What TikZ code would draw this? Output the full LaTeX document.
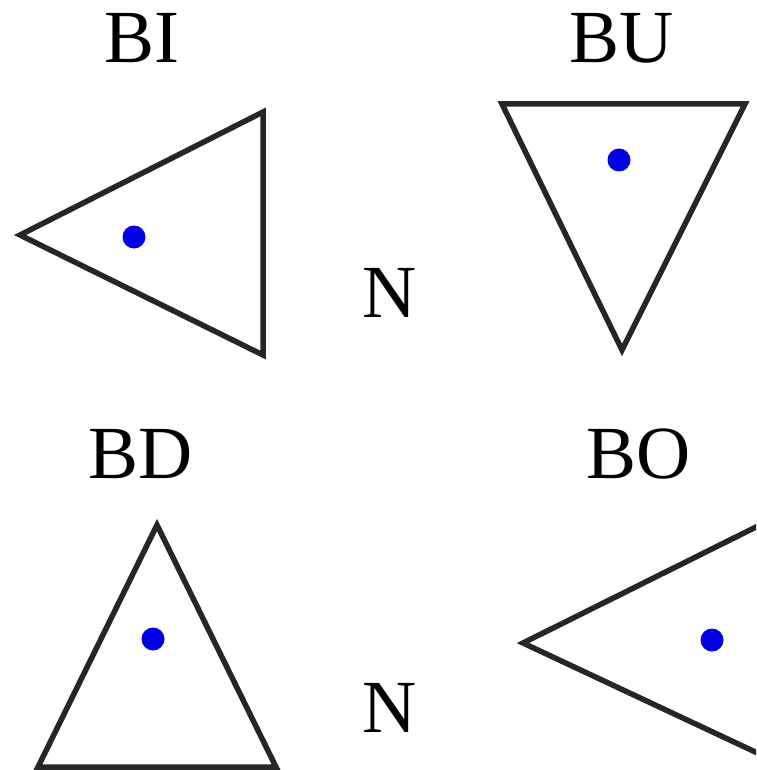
\documentclass[tikz,border=0pt]{standalone}
\usepackage{fontspec}
\setmainfont{Liberation Serif}
\begin{document}
\begin{tikzpicture}[x=1pt,y=-1pt,
  tri/.style={draw=black!85,line width=5.5pt,line join=miter},
  dotmark/.style={fill=blue!90!black,draw=none},
  lbl/.style={anchor=base,inner sep=0pt,font=\fontsize{75}{80}\selectfont}]
\useasboundingbox (0,0) rectangle (756,770);
\begin{scope}
\clip (0,0) rectangle (756,770);
% BI
\coordinate (bi1) at (20,235);
\coordinate (bi2) at (263,112);
\coordinate (bi3) at (263,355);
\draw[tri] (bi1) -- (bi2) -- (bi3) -- cycle;
\fill[dotmark] (134,237) circle (11.5);
% BU
\coordinate (bu1) at (502,104);
\coordinate (bu2) at (745,104);
\coordinate (bu3) at (622,350);
\draw[tri] (bu1) -- (bu2) -- (bu3) -- cycle;
\fill[dotmark] (619,160) circle (11.5);
% BD
\coordinate (bd1) at (157,525);
\coordinate (bd2) at (276,767);
\coordinate (bd3) at (38,767);
\draw[tri] (bd1) -- (bd2) -- (bd3) -- cycle;
\fill[dotmark] (153,639) circle (11.5);
% BO
\coordinate (bo1) at (523,643);
\coordinate (bo2) at (766,522);
\coordinate (bo3) at (766,757);
\draw[tri] (bo2) -- (bo1) -- (bo3);
\fill[dotmark] (712,640) circle (11.5);
\end{scope}
% labels
\node[lbl] (tBI) at (142,63) {BI};
\node[lbl] (tBU) at (622,63) {BU};
\node[lbl] (tBD) at (141,478) {BD};
\node[lbl] (tBO) at (639,478) {BO};
\node[lbl] (tN1) at (390,317) {N};
\node[lbl] (tN2) at (390,732) {N};
\end{tikzpicture}
\end{document}
